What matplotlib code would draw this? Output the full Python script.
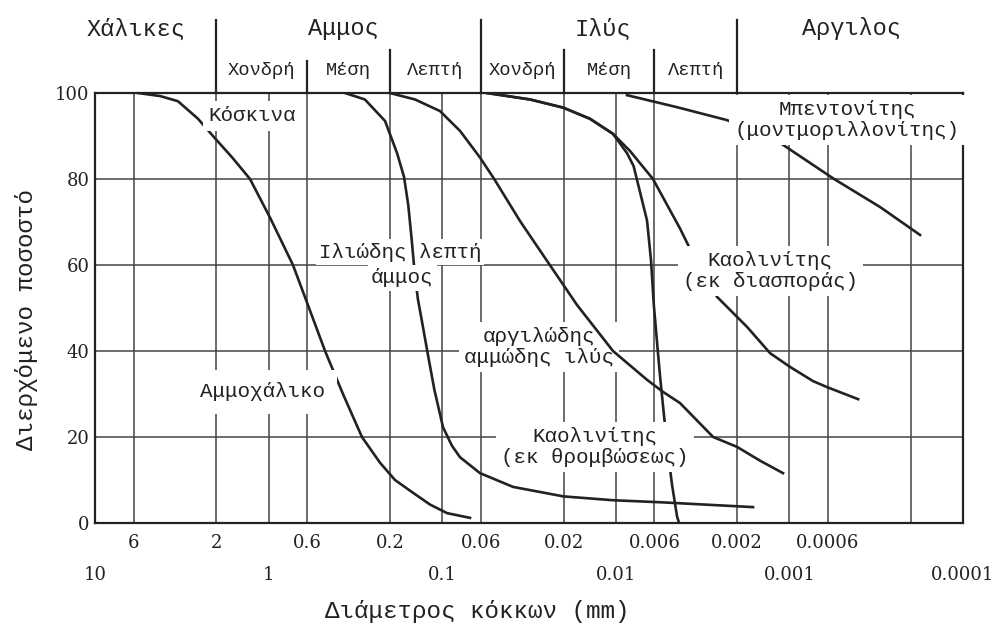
import numpy as np
import matplotlib.pyplot as plt

plt.rcParams['font.family'] = 'DejaVu Serif'
greek = 'Liberation Mono'
ink = '#222222'
gridc = '#444444'

# grain size curves: diameter (mm) vs percent passing
gravel_sand_d = [5.65, 4.22, 3.33, 2.55, 2.04, 1.62, 1.28, 0.981, 0.724, 0.585,
                 0.473, 0.373, 0.290, 0.228, 0.187, 0.147, 0.1176, 0.0938, 0.0692]
gravel_sand_p = [100, 99.3, 98.1, 94, 89.5, 85, 80, 71, 60, 50,
                 40, 30, 20, 14, 10, 7, 4.3, 2.3, 1.2]

silty_sand_d = [0.363, 0.279, 0.2135, 0.182, 0.166, 0.157, 0.150, 0.144, 0.138, 0.131,
                0.122, 0.111, 0.099, 0.088, 0.079, 0.0606, 0.0391, 0.0201, 0.01038,
                0.00535, 0.00162]
silty_sand_p = [100, 98.5, 93.5, 86, 80.5, 74, 66, 58, 52, 47,
                40, 31, 22.3, 18, 15.3, 11.6, 8.4, 6.2, 5.3,
                4.8, 3.7]

clayey_silt_d = [0.200, 0.1434, 0.1030, 0.0790, 0.0606, 0.0502, 0.0356, 0.0240, 0.01673,
                 0.01038, 0.00661, 0.00535, 0.00427, 0.00275, 0.002003, 0.001477, 0.001089]
clayey_silt_p = [100, 98.5, 95.8, 91.2, 85, 80, 70.2, 60, 50.7,
                 40, 33.3, 30.5, 27.9, 20, 17.7, 14.5, 11.6]

floc_kaol_d = [0.0552, 0.0312, 0.0201, 0.01408, 0.01038, 0.00862, 0.0079, 0.00726, 0.00661,
               0.00627, 0.00605, 0.00579, 0.00556, 0.00528, 0.00507, 0.00475, 0.00444, 0.00432]
floc_kaol_p = [100, 98.5, 96.6, 94, 90.5, 86, 83, 77, 70.3,
               61, 51, 42, 34, 25, 18, 9, 1.5, 0]

disp_kaol_d = [0.0552, 0.0312, 0.0201, 0.01408, 0.01038, 0.00828, 0.00611, 0.00507, 0.00427,
               0.00327, 0.002613, 0.001754, 0.001293, 0.000992, 0.000731, 0.000607, 0.000402]
disp_kaol_p = [100, 98.5, 96.6, 94, 90.5, 86.5, 80, 74, 68.5,
               59, 52.6, 45.6, 39.5, 36.3, 33, 31.6, 28.8]

bentonite_d = [0.00862, 0.00444, 0.002288, 0.001132, 0.000553, 0.000301, 0.000177]
bentonite_p = [99.5, 96.7, 93.7, 88.4, 80, 73.5, 67]

upper_ticks = [6, 2, 0.6, 0.2, 0.06, 0.02, 0.006, 0.002, 0.0006]
upper_labels = ['6', '2', '0.6', '0.2', '0.06', '0.02', '0.006', '0.002', '0.0006']
lower_ticks = [10, 1, 0.1, 0.01, 0.001, 0.0001]
lower_labels = ['10', '1', '0.1', '0.01', '0.001', '0.0001']
extra_grid = [0.0002]
y_ticks = [0, 20, 40, 60, 80, 100]

# soil classes above the chart
classes = ['Χάλικες', 'Αμμος', 'Ιλύς', 'Αργιλος']
class_pos = [5.8, 0.37, 0.0118, 0.00044]
sub_names = ['Χονδρή', 'Μέση', 'Λεπτή', 'Χονδρή', 'Μέση', 'Λεπτή']
sub_bounds = [2, 0.6, 0.2, 0.06, 0.02, 0.006, 0.002]
main_bounds = [2, 0.06, 0.002]

fig = plt.figure(figsize=(9.95, 6.26), dpi=100)
ax = fig.add_axes([0.0955, 0.1645, 0.8724, 0.6869])
ax.set_xscale('log')
ax.set_xlim(10, 0.0001)
ax.set_ylim(0, 100)

ax.set_xticks(upper_ticks + extra_grid, labels=upper_labels + [''])
ax.set_xticks(lower_ticks, labels=lower_labels, minor=True)
ax.set_yticks(y_ticks)
ax.tick_params(axis='x', which='major', length=0, pad=8, labelsize=13, colors=ink)
ax.tick_params(axis='x', which='minor', length=0, pad=31, labelsize=13, colors=ink)
ax.tick_params(axis='y', length=0, pad=4, labelsize=13, colors=ink)
ax.set_axisbelow(True)
ax.grid(True, which='both', axis='x', color=gridc, lw=1.1)
ax.grid(True, which='major', axis='y', color=gridc, lw=1.1)
for s in ax.spines.values():
    s.set_linewidth(1.6)
    s.set_color(ink)

for d, p in [(gravel_sand_d, gravel_sand_p), (silty_sand_d, silty_sand_p),
             (clayey_silt_d, clayey_silt_p), (floc_kaol_d, floc_kaol_p),
             (disp_kaol_d, disp_kaol_p), (bentonite_d, bentonite_p)]:
    ax.plot(d, p, color=ink, lw=1.9, zorder=3, solid_joinstyle='round')

box = dict(boxstyle='square,pad=0.25', fc='white', ec='none')
lab = dict(ha='center', va='center', fontsize=15, family=greek, color=ink, linespacing=1.1)
ax.text(1.25, 94.7, 'Κόσκινα', bbox=box, zorder=5, **lab)
ax.text(1.09, 30.5, 'Αμμοχάλικο', bbox=dict(boxstyle='square,pad=0.6', fc='white', ec='none'),
        zorder=5, **lab)
ax.text(0.175, 63.0, 'Ιλιώδης λεπτή', bbox=dict(boxstyle='square,pad=0.15', fc='white', ec='none'),
        zorder=2.5, **lab)
ax.text(0.17, 57.0, 'άμμος', bbox=dict(boxstyle='square,pad=0.15', fc='white', ec='none'),
        zorder=5, **lab)
ax.text(0.0277, 40.9, 'αργιλώδης\nαμμώδης ιλύς', bbox=box, zorder=2.5, **lab)
ax.text(0.0132, 17.7, 'Καολινίτης\n(εκ θρομβώσεως)', bbox=box, zorder=5, **lab)
ax.text(0.00129, 58.6, 'Καολινίτης\n(εκ διασποράς)', bbox=box, zorder=5, **lab)
ax.text(0.000466, 93.7, 'Μπεντονίτης\n(μοντμοριλλονίτης)', bbox=box, zorder=5, **lab)

# class headers and separators above the axes
xt = ax.get_xaxis_transform()
for name, pos in zip(classes, class_pos):
    ax.text(pos, 1.149, name, transform=xt, ha='center', va='center',
            fontsize=17, family=greek, color=ink)
for i, name in enumerate(sub_names):
    mid = np.sqrt(sub_bounds[i] * sub_bounds[i + 1])
    ax.text(mid, 1.053, name, transform=xt, ha='center', va='center',
            fontsize=13.5, family=greek, color=ink)
for b in sub_bounds:
    if b in main_bounds:
        top = 1.17
    elif b == 0.6:
        top = 1.075
    else:
        top = 1.10
    ax.plot([b, b], [1.0, top], transform=xt, color=ink, lw=1.6, clip_on=False)

fig.text(0.027, 0.49, 'Διερχόμενο ποσοστό', rotation=90, ha='center', va='center',
         fontsize=17.5, family=greek, color=ink)
fig.text(0.48, 0.023, 'Διάμετρος κόκκων (mm)', ha='center', va='center',
         fontsize=17.5, family=greek, color=ink)

fig.savefig('out.png', dpi=100, facecolor='white')
